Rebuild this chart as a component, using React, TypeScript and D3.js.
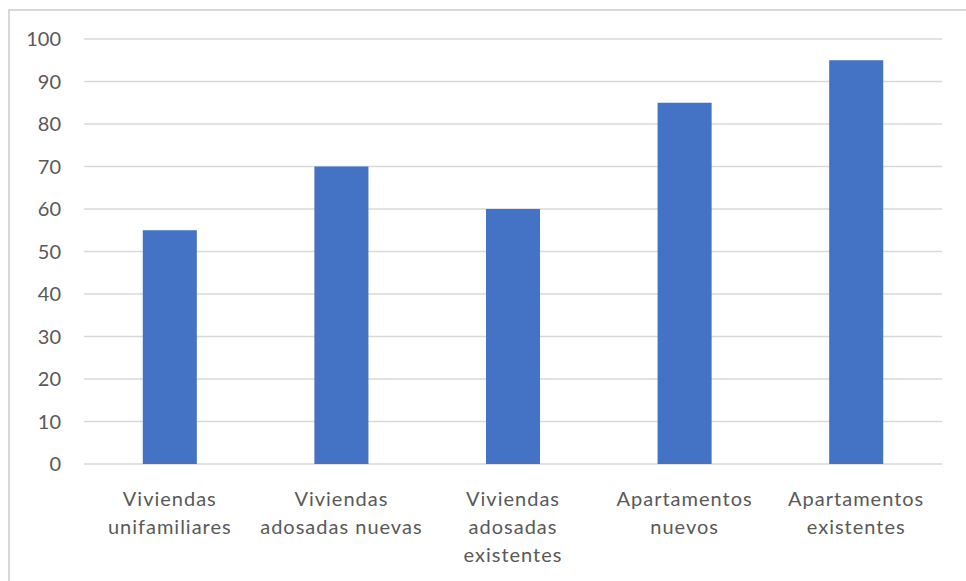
import React from "react";
import * as d3 from "d3";

const categories: string[][] = [
  ["Viviendas", "unifamiliares"],
  ["Viviendas", "adosadas nuevas"],
  ["Viviendas", "adosadas", "existentes"],
  ["Apartamentos", "nuevos"],
  ["Apartamentos", "existentes"],
];
const values: number[] = [55, 70, 60, 85, 95];
const yTicks: number[] = [0, 10, 20, 30, 40, 50, 60, 70, 80, 90, 100];

const W = 966;
const H = 581;
const plot = { left: 84, right: 942, top: 39, bottom: 464 };
const FONT = "Lato, 'Open Sans', sans-serif";
const TEXT = "#595959";
const GRID = "#d9d9d9";
const BAR = "#4472c4";

export default function App() {
  const x = d3
    .scaleBand<number>()
    .domain(d3.range(values.length))
    .range([plot.left, plot.right])
    .paddingInner(0.685)
    .paddingOuter(0.3425);
  const y = d3.scaleLinear().domain([0, 100]).range([plot.bottom, plot.top]);

  return (
    <svg
      width={W}
      height={H}
      style={{ position: "absolute", left: 0, top: 0, background: "#fff" }}
    >
      <rect
        x={9}
        y={10}
        width={W + 20}
        height={H + 20}
        fill="#fff"
        stroke={GRID}
        strokeWidth={2}
      />
      {yTicks.map((t) => (
        <g key={t}>
          <line
            x1={plot.left}
            x2={plot.right}
            y1={y(t)}
            y2={y(t)}
            stroke={GRID}
            strokeWidth={1.5}
          />
          <text
            x={61}
            y={y(t)}
            dy="0.36em"
            textAnchor="end"
            fontFamily={FONT}
            fontSize={20}
            fill={TEXT}
          >
            {t}
          </text>
        </g>
      ))}
      {values.map((v, i) => (
        <rect
          key={i}
          x={x(i)}
          y={y(v)}
          width={x.bandwidth()}
          height={y(0) - y(v)}
          fill={BAR}
        />
      ))}
      {categories.map((lines, i) => (
        <text
          key={i}
          x={(x(i) as number) + x.bandwidth() / 2}
          y={506}
          textAnchor="middle"
          fontFamily={FONT}
          fontSize={20}
          fill={TEXT}
          letterSpacing={1}
        >
          {lines.map((l, j) => (
            <tspan key={j} x={(x(i) as number) + x.bandwidth() / 2} dy={j === 0 ? 0 : 28}>
              {l}
            </tspan>
          ))}
        </text>
      ))}
    </svg>
  );
}
